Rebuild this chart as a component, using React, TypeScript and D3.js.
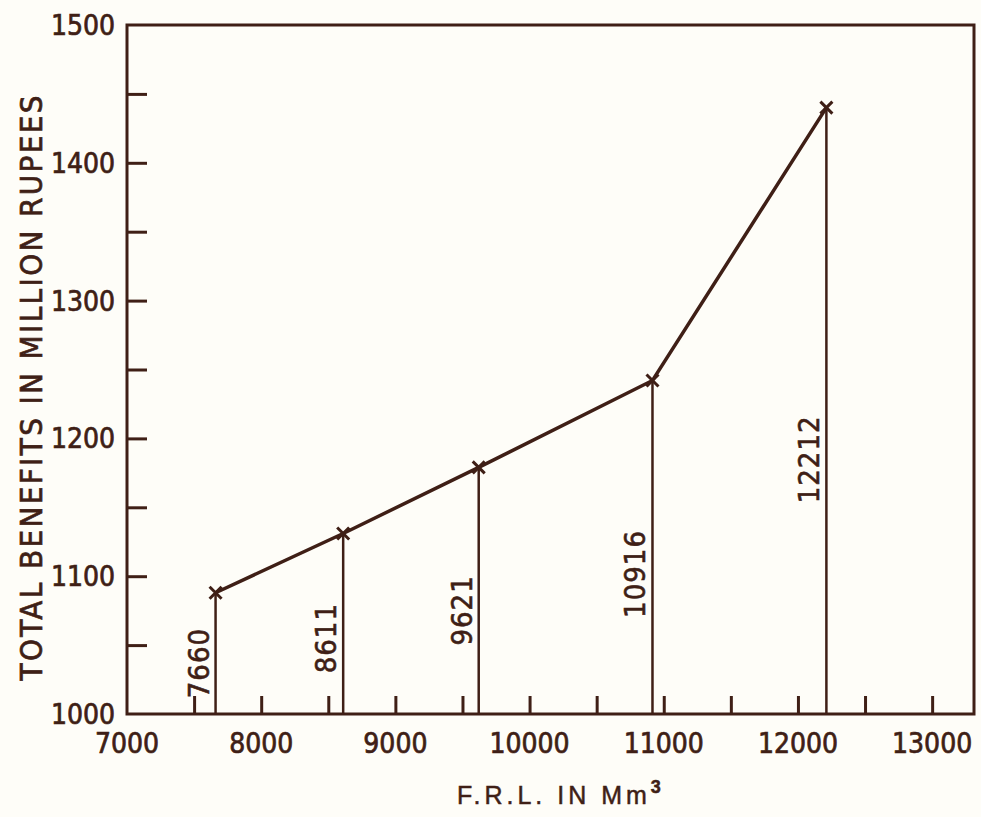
import React, { useEffect, useRef } from 'react';
import * as d3 from 'd3';

// F.R.L. (Mm3) against total benefits (million rupees)
const frl = [7660, 8611, 9621, 10916, 12212];
const benefits = [1088, 1131, 1179, 1242, 1440];
const xTickLabels = [7000, 8000, 9000, 10000, 11000, 12000, 13000];
const yTickLabels = [1000, 1100, 1200, 1300, 1400, 1500];

const ink = '#3f1f16';
const numFont = "'Liberation Sans Narrow', 'DejaVu Sans Condensed', sans-serif";
const titleFont = "'Liberation Sans', 'DejaVu Sans', sans-serif";

function App() {
    const ref = useRef<SVGSVGElement>(null);

    useEffect(() => {
        const width = 981;
        const height = 817;
        const svg = d3.select(ref.current);
        svg.selectAll('*').remove();

        const x = d3.scaleLinear().domain([7000, 13312]).range([127, 974]);
        const y = d3.scaleLinear().domain([1000, 1500]).range([714, 25]);

        svg.append('rect')
            .attr('width', width)
            .attr('height', height)
            .attr('fill', '#fefdf8');

        const g = svg.append('g');

        // frame
        g.append('rect')
            .attr('x', x(7000))
            .attr('y', y(1500))
            .attr('width', x(13312) - x(7000))
            .attr('height', y(1000) - y(1500))
            .attr('fill', 'none')
            .attr('stroke', ink)
            .attr('stroke-width', 3);

        // inner ticks
        const xAxis = d3.axisBottom(x)
            .tickValues(d3.range(7500, 13001, 500))
            .tickSize(-18)
            .tickFormat(() => '');
        const xg = g.append('g')
            .attr('transform', 'translate(0,' + y(1000) + ')')
            .call(xAxis);
        xg.select('.domain').remove();
        xg.selectAll('line').attr('stroke', ink).attr('stroke-width', 3);

        const yAxis = d3.axisLeft(y)
            .tickValues(d3.range(1050, 1451, 50))
            .tickSize(-20)
            .tickFormat(() => '');
        const yg = g.append('g')
            .attr('transform', 'translate(' + x(7000) + ',0)')
            .call(yAxis);
        yg.select('.domain').remove();
        yg.selectAll('line').attr('stroke', ink).attr('stroke-width', 3);

        // tick labels
        g.selectAll('.xlab')
            .data(xTickLabels)
            .enter()
            .append('text')
            .attr('x', d => x(d))
            .attr('y', y(1000) + 39)
            .attr('text-anchor', 'middle')
            .attr('font-family', numFont)
            .attr('font-size', 28)
            .attr('fill', ink)
            .attr('stroke', ink)
            .attr('stroke-width', 0.7)
            .text(d => d);

        g.selectAll('.ylab')
            .data(yTickLabels)
            .enter()
            .append('text')
            .attr('x', x(7000) - 12)
            .attr('y', d => y(d))
            .attr('dy', '0.36em')
            .attr('text-anchor', 'end')
            .attr('font-family', numFont)
            .attr('font-size', 28)
            .attr('fill', ink)
            .attr('stroke', ink)
            .attr('stroke-width', 0.7)
            .text(d => d);

        const pts = frl.map((f, i) => ({ f, b: benefits[i] }));

        // drop lines
        g.selectAll('.drop')
            .data(pts)
            .enter()
            .append('line')
            .attr('x1', d => x(d.f))
            .attr('x2', d => x(d.f))
            .attr('y1', d => y(d.b))
            .attr('y2', y(1000))
            .attr('stroke', ink)
            .attr('stroke-width', 2.5);

        // drop line labels
        g.selectAll('.droplab')
            .data(pts)
            .enter()
            .append('text')
            .attr('transform', d => {
                const cy = y(1000) - 0.42 * (y(1000) - y(d.b));
                return 'translate(' + (x(d.f) - 7) + ',' + cy + ') rotate(-90)';
            })
            .attr('text-anchor', 'middle')
            .attr('font-family', numFont)
            .attr('font-size', 29)
            .attr('letter-spacing', 1)
            .attr('fill', ink)
            .attr('stroke', ink)
            .attr('stroke-width', 0.6)
            .text(d => d.f);

        const line = d3.line<{ f: number; b: number }>()
            .x(d => x(d.f))
            .y(d => y(d.b));

        g.append('path')
            .datum(pts)
            .attr('d', line)
            .attr('fill', 'none')
            .attr('stroke', ink)
            .attr('stroke-width', 3.5);

        // x markers
        const s = 6;
        g.selectAll('.mark')
            .data(pts)
            .enter()
            .append('path')
            .attr('d', d => {
                const cx = x(d.f), cy = y(d.b);
                return 'M' + (cx - s) + ',' + (cy - s) + 'L' + (cx + s) + ',' + (cy + s)
                    + 'M' + (cx + s) + ',' + (cy - s) + 'L' + (cx - s) + ',' + (cy + s);
            })
            .attr('stroke', ink)
            .attr('stroke-width', 3)
            .attr('fill', 'none');

        // axis titles
        g.append('text')
            .attr('transform', 'translate(42,' + 388 + ') rotate(-90)')
            .attr('text-anchor', 'middle')
            .attr('font-family', numFont)
            .attr('font-size', 31)
            .attr('textLength', 585)
            .attr('lengthAdjust', 'spacing')
            .attr('fill', ink)
            .attr('stroke', ink)
            .attr('stroke-width', 0.7)
            .text('TOTAL BENEFITS IN MILLION RUPEES');

        const xt = g.append('text')
            .attr('x', 457)
            .attr('y', 804)
            .attr('font-family', titleFont)
            .attr('font-size', 25)
            .attr('letter-spacing', 4)
            .attr('fill', ink)
            .attr('stroke', ink)
            .attr('stroke-width', 0.5);
        xt.append('tspan').text('F.R.L. IN Mm');
        xt.append('tspan')
            .attr('dy', -11)
            .attr('font-size', 18)
            .attr('font-weight', 'bold')
            .text('3');
    }, []);

    return (
        <svg ref={ref} width={981} height={817}
            style={{ position: 'absolute', left: 0, top: 0, display: 'block' }} />
    );
}

export default App;
